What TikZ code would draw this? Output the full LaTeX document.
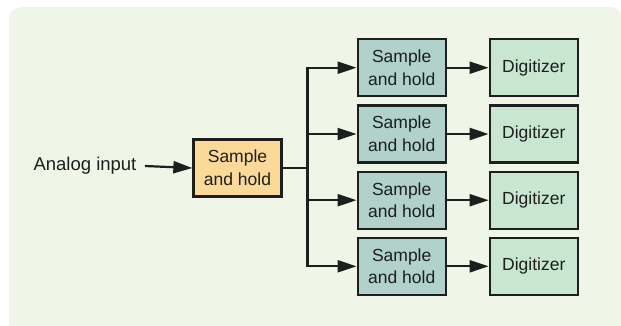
\documentclass[tikz,border=0pt]{standalone}
\usepackage{fontspec}
\setmainfont{Liberation Sans}
\usetikzlibrary{arrows.meta}
\definecolor{panel}{RGB}{239,245,231}
\definecolor{firstfill}{RGB}{250,218,150}
\definecolor{shfill}{RGB}{176,210,202}
\definecolor{digfill}{RGB}{200,230,208}
\definecolor{ink}{RGB}{30,30,30}
\begin{document}
\begin{tikzpicture}[x=1pt,y=-1pt,
  block/.style={draw=ink,line width=2.3pt,minimum width=88pt,minimum height=57pt,
    inner sep=0pt,align=center,text=ink,font=\fontsize{17.5}{22.7}\selectfont},
  feed/.style={draw=ink,line width=2.2pt,-{Triangle[length=19pt,width=12pt]}}]
\useasboundingbox (0,0) rectangle (621,325);
\begin{scope}
\clip (0,0) rectangle (621,325);
\fill[panel,rounded corners=12pt] (9,7) rectangle (622,345);
\end{scope}
\node[text=ink,font=\fontsize{18.5}{22.7}\selectfont] (input) at (85,166) {Analog input};
\node[block,fill=firstfill] (sh0) at (237.5,168) {Sample\\and hold};
\coordinate (bus) at (307.5,168);
\path (input.east) ++(5,0) coordinate (start);
\draw[feed] (start) -- (sh0.west);
\draw[ink,line width=2pt] (sh0.east) -- (bus);
\foreach \i/\y in {1/67.7,2/134,3/200.2,4/266.3}{
  \node[block,fill=shfill] (sh\i) at (401.7,\y) {Sample\\and hold};
  \node[block,fill=digfill] (dig\i) at (533.8,\y) {Digitizer};
  \draw[feed] (bus) |- (sh\i.west);
  \draw[feed] (sh\i.east) -- (dig\i.west);
}
\end{tikzpicture}
\end{document}
